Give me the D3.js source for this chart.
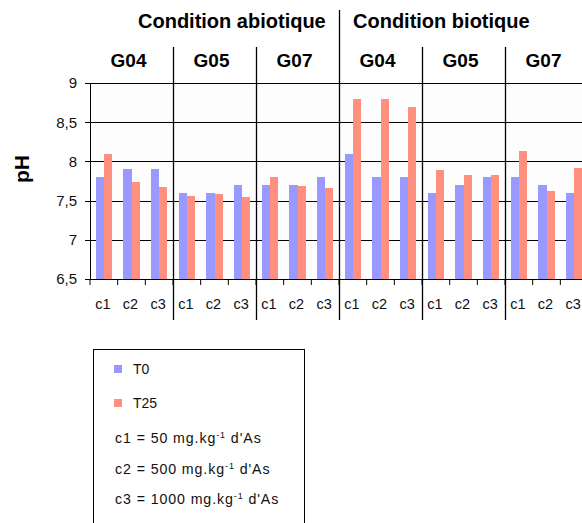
<!DOCTYPE html>
<html><head><meta charset="utf-8">
<script src="https://cdn.jsdelivr.net/npm/d3@7"></script>
<style>body{margin:0;background:#fff}svg{display:block}text{font-family:"Liberation Sans",Arial,sans-serif}</style>
</head><body>
<svg id="c" width="582" height="523"></svg>
<script>
const conditions = ["Condition abiotique", "Condition biotique"];
const genotypes = ["G04", "G05", "G07"];
const concentrations = ["c1", "c2", "c3"];
const seriesNames = ["T0", "T25"];
// order: abiotique G04,G05,G07, biotique G04,G05,G07 ; each c1,c2,c3
const t0Values = [7.8, 7.9, 7.9, 7.6, 7.6, 7.7, 7.7, 7.7, 7.8,
                  8.1, 7.8, 7.8, 7.6, 7.7, 7.8, 7.8, 7.7, 7.6];
const t25Values = [8.1, 7.74, 7.67, 7.56, 7.58, 7.54, 7.8, 7.68, 7.66,
                   8.79, 8.79, 8.7, 7.89, 7.83, 7.83, 8.13, 7.62, 7.92];
const yTicks = [6.5, 7, 7.5, 8, 8.5, 9];
const legendNotes = [["c1 = 50 mg.kg", "-1", " d'As"], ["c2 = 500 mg.kg", "-1", " d'As"], ["c3 = 1000 mg.kg", "-1", " d'As"]];
const colors = {T0: "#9999ff", T25: "#ff9080"};

const svg = d3.select("#c");
const pLeft = 90, pRight = 588, pTop = 83, pBottom = 279;

const groups = [];
conditions.forEach((c, ci) => genotypes.forEach(g => groups.push({cond: ci, g, key: ci + g})));
const x0 = d3.scaleBand().domain(groups.map(d => d.key)).range([pLeft, pRight]);
const x1 = d3.scaleBand().domain(concentrations).range([0, x0.bandwidth()]);
const x2 = d3.scaleBand().domain(seriesNames).range([0, x1.bandwidth()]).paddingOuter(0.72);
const y = d3.scaleLinear().domain([6.5, 9]).range([pBottom, pTop]);

// background
svg.append("rect").attr("x", pLeft).attr("y", pTop).attr("width", pRight - pLeft).attr("height", pBottom - pTop).attr("fill", "#fdfdfd");

// gridlines
svg.append("g").selectAll("line").data(yTicks.filter(t => t > 6.5)).join("line")
  .attr("x1", pLeft).attr("x2", pRight).attr("y1", d => Math.round(y(d)) + 0.5).attr("y2", d => Math.round(y(d)) + 0.5)
  .attr("stroke", "#000").attr("stroke-width", 1);

// bars
const data = [];
groups.forEach((gr, gi) => concentrations.forEach((c, ci) => {
  const i = gi * 3 + ci;
  data.push({gr, c, s: "T0", v: t0Values[i]});
  data.push({gr, c, s: "T25", v: t25Values[i]});
}));
svg.append("g").selectAll("rect").data(data).join("rect")
  .attr("x", d => x0(d.gr.key) + x1(d.c) + x2(d.s))
  .attr("width", x2.bandwidth())
  .attr("y", d => y(d.v)).attr("height", d => y(6.5) - y(d.v))
  .attr("fill", d => colors[d.s]).attr("shape-rendering", "crispEdges");

// y axis
const yAxis = d3.axisLeft(y).tickValues(yTicks).tickSize(5).tickPadding(8)
  .tickFormat(d => String(d).replace(".", ","));
const ya = svg.append("g").attr("transform", `translate(${pLeft},0)`).call(yAxis);
ya.select(".domain").attr("stroke", "#000").attr("shape-rendering", "crispEdges");
ya.selectAll(".tick line").attr("shape-rendering", "crispEdges");
ya.selectAll("text").attr("font-size", 15).attr("fill", "#111").attr("font-family", '"Liberation Sans",Arial,sans-serif');

// x axis line
svg.append("line").attr("x1", pLeft).attr("x2", pRight).attr("y1", pBottom + 0.5).attr("y2", pBottom + 0.5).attr("stroke", "#000");
// category ticks and labels
groups.forEach(gr => {
  const g = svg.append("g").attr("transform", `translate(${x0(gr.key)},0)`);
  concentrations.forEach(c => {
    g.append("line").attr("x1", x1(c)).attr("x2", x1(c))
      .attr("y1", pBottom).attr("y2", pBottom + 6).attr("stroke", "#000");
    g.append("text").attr("x", x1(c) + x1.bandwidth() / 2 - 1).attr("y", pBottom + 30)
      .attr("text-anchor", "middle").attr("font-size", 14.5).attr("fill", "#111").text(c);
  });
});

// group dividers
groups.forEach((gr, gi) => {
  if (gi === 0) return;
  const xx = Math.round(x0(gr.key)) + 0.5;
  svg.append("line").attr("x1", xx).attr("x2", xx)
    .attr("y1", gi === 3 ? 10 : 47).attr("y2", 320)
    .attr("stroke", "#000").attr("stroke-width", 1.3);
});

// genotype labels
groups.forEach(gr => {
  svg.append("text").attr("x", x0(gr.key) + x0.bandwidth() / 2 - 3).attr("y", 67)
    .attr("text-anchor", "middle").attr("font-size", 19).attr("font-weight", "bold").text(gr.g);
});
// condition labels
svg.append("text").attr("x", 138).attr("y", 28).attr("font-size", 20).attr("font-weight", "bold").text(conditions[0]);
svg.append("text").attr("x", 353).attr("y", 28).attr("font-size", 20).attr("font-weight", "bold").text(conditions[1]);

// y label
svg.append("text").attr("transform", "translate(29,169) rotate(-90)").attr("text-anchor", "middle")
  .attr("font-size", 21).attr("font-weight", "bold").text("pH");

// legend
svg.append("rect").attr("x", 93.5).attr("y", 349.5).attr("width", 211).attr("height", 190)
  .attr("fill", "#fff").attr("stroke", "#000");
seriesNames.forEach((s, i) => {
  const yy = 369 + i * 34;
  svg.append("rect").attr("x", 114).attr("y", yy - 4).attr("width", 8).attr("height", 8).attr("fill", colors[s]);
  svg.append("text").attr("x", 133).attr("y", yy + 5).attr("font-size", 14).attr("fill", "#111").text(s);
});
legendNotes.forEach((n, i) => {
  const t = svg.append("text").attr("x", 115).attr("y", 443 + i * 30.5).attr("font-size", 14.2)
    .attr("letter-spacing", 0.9).attr("fill", "#111");
  t.append("tspan").text(n[0]);
  t.append("tspan").attr("font-size", 9).attr("dy", -5).text(n[1]);
  t.append("tspan").attr("dy", 5).text(n[2]);
});
</script>
</body></html>
